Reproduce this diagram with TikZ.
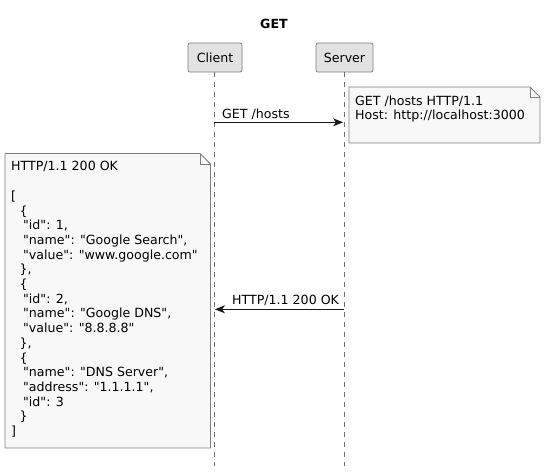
\documentclass[tikz,border=0pt]{standalone}
\usepackage{fontspec}
\setmainfont{DejaVu Sans}[Ligatures=TeXOff]
\usetikzlibrary{arrows.meta}
\definecolor{partfill}{HTML}{E2E2E2}
\definecolor{partdraw}{HTML}{7F7F7F}
\definecolor{notefill}{HTML}{F8F8F8}
\definecolor{notedraw}{HTML}{7F7F7F}
\definecolor{lifecol}{HTML}{6F6F6F}
\tikzset{
  txt/.style={font=\fontsize{12.6}{14.7}\selectfont, inner sep=0pt},
  participant/.style={draw=partdraw, fill=partfill, rounded corners=2pt, line width=0.8pt, minimum height=29pt, inner sep=0pt, font=\fontsize{12.6}{14.7}\selectfont},
  lifeline/.style={draw=lifecol, line width=0.6pt, dash pattern=on 5pt off 5pt},
  msg/.style={draw=black!90, line width=0.8pt, -{Stealth[length=10pt,width=8pt,inset=3pt]}},
  notebox/.style={draw=notedraw, fill=notefill, line width=0.8pt},
}
\begin{document}
\begin{tikzpicture}[x=1pt,y=-1pt]
\useasboundingbox (0,0) rectangle (545,472);
\fill[white] (0,0) rectangle (545,472);
% title
\node[txt, anchor=base, font=\fontsize{12.6}{14.7}\selectfont\bfseries] (title) at (274,28) {GET};
% participants
\node[participant, minimum width=54pt] (client) at (215,57.5) {Client};
\node[participant, minimum width=57pt] (server) at (344.5,57.5) {Server};
% lifelines
\coordinate (cend) at (214,466);
\coordinate (send) at (344,466);
\draw[lifeline] (214,72) -- (cend);
\draw[lifeline] (344,72) -- (send);
% message points
\coordinate (c1) at (214,122.3);
\coordinate (s1) at (343,122.3);
\coordinate (s2) at (344,309.3);
\coordinate (c2) at (215,309.3);
\draw[msg] (c1) -- (s1);
\node[txt, anchor=base west] (m1) at (222,118.5) {GET /hosts};
\draw[msg] (s2) -- (c2);
\node[txt, anchor=base west] (m2) at (232,304.5) {HTTP/1.1 200 OK};
% note 1
\draw[notebox] (349,87) -- (530,87) -- (540,97) -- (540,143) -- (349,143) -- cycle;
\draw[notebox, fill=none] (530,87) -- (530,97) -- (540,97);
\node[txt, anchor=north west, align=left] (n1) at (355,105-10.29) {\strut GET /hosts HTTP/1.1\\Host: http://localhost:3000};
% note 2
\draw[notebox] (5,153.5) -- (200,153.5) -- (210.5,164) -- (210.5,448) -- (5,448) -- cycle;
\draw[notebox, fill=none] (200,153.5) -- (200,164) -- (210.5,164);
\node[txt, anchor=north west, align=left] (n2) at (11,170.7-10.29) {\strut HTTP/1.1 200 OK\\
\mbox{}\\
{[}\\
\hspace*{8.5pt}\{\\
\hspace*{12pt}"id": 1,\\
\hspace*{12pt}"name": "Google Search",\\
\hspace*{12pt}"value": "www.google.com"\\
\hspace*{8.5pt}\},\\
\hspace*{8.5pt}\{\\
\hspace*{12pt}"id": 2,\\
\hspace*{12pt}"name": "Google DNS",\\
\hspace*{12pt}"value": "8.8.8.8"\\
\hspace*{8.5pt}\},\\
\hspace*{8.5pt}\{\\
\hspace*{12pt}"name": "DNS Server",\\
\hspace*{12pt}"address": "1.1.1.1",\\
\hspace*{12pt}"id": 3\\
\hspace*{8.5pt}\}\\
{]}};
\end{tikzpicture}
\end{document}
